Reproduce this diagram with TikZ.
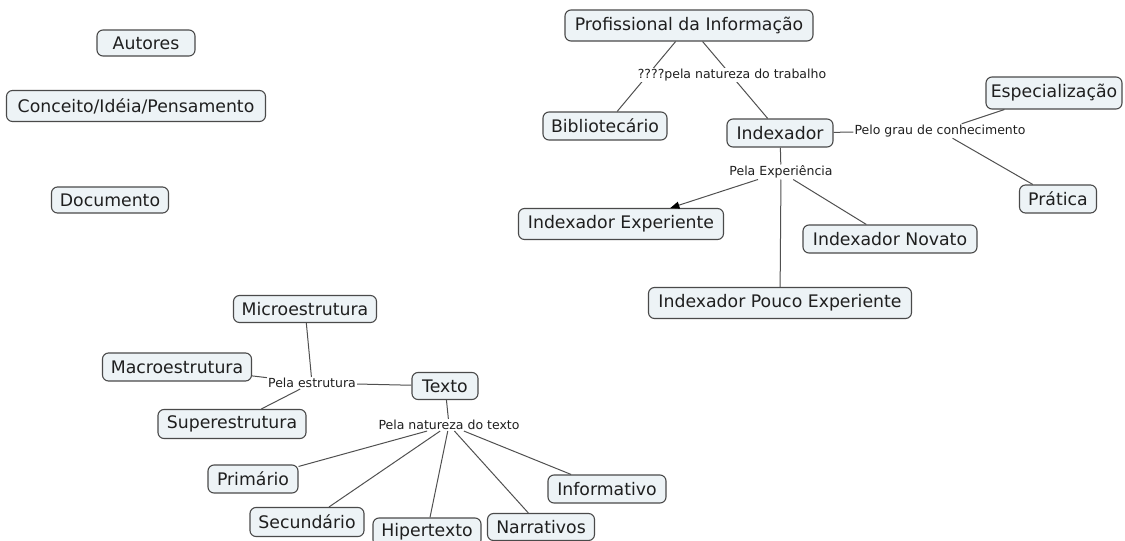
\documentclass[tikz,border=0pt]{standalone}
\usepackage{fontspec}
\setmainfont{DejaVu Sans}
\usetikzlibrary{arrows.meta}
\definecolor{boxfill}{HTML}{EDF3F6}
\definecolor{boxline}{HTML}{4A4A4A}
\definecolor{linkline}{HTML}{505050}
\tikzset{
  concept/.style={draw=boxline, fill=boxfill, line width=1.1pt, rounded corners=6pt,
    inner sep=0pt, minimum height=28pt, text=black!88,
    font=\fontsize{17.3}{20}\selectfont},
  linklabel/.style={fill=white, inner sep=1pt, text=black!88,
    font=\fontsize{12.5}{14}\selectfont},
  conn/.style={draw=linkline, line width=1pt},
  arr/.style={conn, -{Triangle[length=9pt,width=7pt,color=black]}}
}
\begin{document}
\begin{tikzpicture}[x=1pt, y=-1pt]
\useasboundingbox (0,0) rectangle (1125,541);

% stand-alone concepts
\node[concept, minimum width=98pt, minimum height=26pt] (autores) at (146,43) {Autores};
\node[concept, minimum width=259pt, minimum height=31pt] (conceito) at (136,106) {Conceito/Idéia/Pensamento};
\node[concept, minimum width=117pt, minimum height=26pt] (documento) at (110,200) {Documento};

% information professional branch
\node[concept, minimum width=248pt, minimum height=31pt] (prof) at (689,25.5) {Profissional da Informação};
\node[concept, minimum width=124pt] (bib) at (605,126) {Bibliotecário};
\node[concept, minimum width=106pt] (idx) at (780,133) {Indexador};
\node[concept, minimum width=136pt, minimum height=32pt] (esp) at (1054,93) {Especialização};
\node[concept, minimum width=77pt, minimum height=28pt] (prat) at (1058,199) {Prática};
\node[concept, minimum width=205pt, minimum height=31pt] (exper) at (621,224) {Indexador Experiente};
\node[concept, minimum width=174pt] (novato) at (890,239) {Indexador Novato};
\node[concept, minimum width=263pt, minimum height=31pt] (pouco) at (780,303) {Indexador Pouco Experiente};

\draw[conn] (prof) -- (bib);
\draw[conn] (prof) -- (idx);
\node[linklabel] (lnattrab) at (732,75) {????pela natureza do trabalho};

\node[linklabel] (lgrau) at (940,131) {Pelo grau de conhecimento};
\draw[conn] (idx) -- (lgrau);
\draw[conn] (lgrau) -- (esp);
\draw[conn] (lgrau) -- (prat);

\node[linklabel] (lexp) at (781,172) {Pela Experiência};
\draw[conn] (idx) -- (lexp);
\draw[arr] (lexp) -- (exper);
\draw[conn] (lexp) -- (pouco);
\draw[conn] (lexp) -- (novato);

% text branch
\node[concept, minimum width=143pt, minimum height=27pt] (micro) at (305,309) {Microestrutura};
\node[concept, minimum width=149pt] (macro) at (177,367) {Macroestrutura};
\node[concept, minimum width=148pt, minimum height=29pt] (super) at (232,424) {Superestrutura};
\node[concept, minimum width=66pt, minimum height=27pt] (texto) at (445,386) {Texto};
\node[concept, minimum width=90pt] (prim) at (253,479) {Primário};
\node[concept, minimum width=114pt, minimum height=29pt] (sec) at (307,522) {Secundário};
\node[concept, minimum width=108pt] (hiper) at (427,532) {Hipertexto};
\node[concept, minimum width=107pt, minimum height=27pt] (narr) at (541,527) {Narrativos};
\node[concept, minimum width=118pt] (info) at (607,489) {Informativo};

\node[linklabel] (lestr) at (312,383) {Pela estrutura};
\draw[conn] (texto) -- (lestr);
\draw[conn] (lestr) -- (micro);
\draw[conn] (lestr) -- (macro);
\draw[conn] (lestr) -- (super);

\node[linklabel] (lnattex) at (449,425) {Pela natureza do texto};
\draw[conn] (texto) -- (lnattex);
\draw[conn] (lnattex) -- (prim);
\draw[conn] (lnattex) -- (sec);
\draw[conn] (lnattex) -- (hiper);
\draw[conn] (lnattex) -- (narr);
\draw[conn] (lnattex) -- (info);
\end{tikzpicture}
\end{document}
